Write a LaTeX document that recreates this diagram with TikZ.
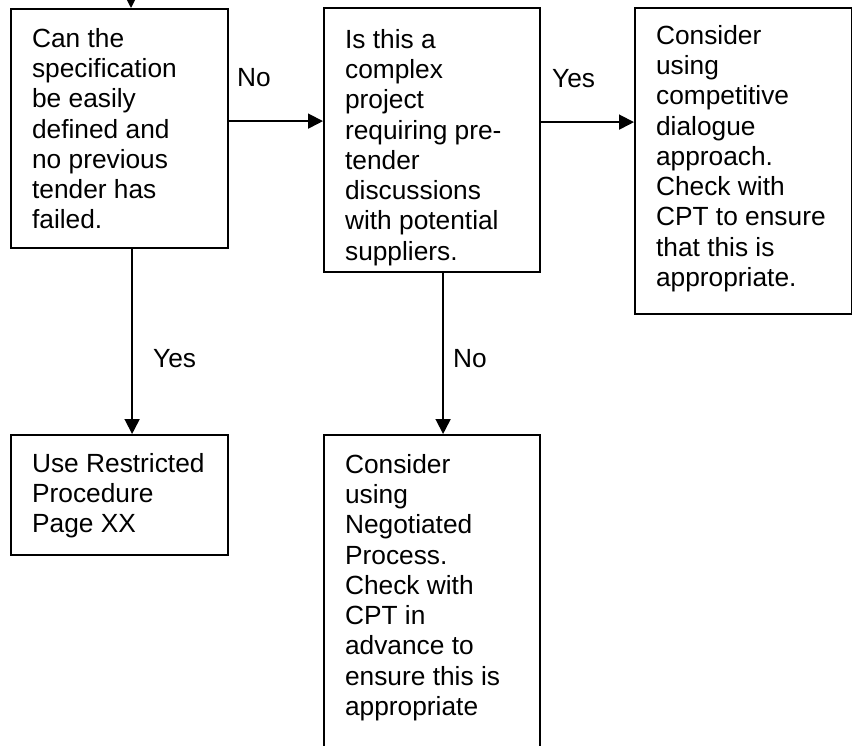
\documentclass[tikz,border=0pt]{standalone}
\usepackage{fontspec}
\setmainfont{Liberation Sans}
\usetikzlibrary{arrows.meta}

% text block of fixed width and height, set from the top
\newcommand{\flowtext}[3]{\parbox[t][#2][t]{#1}{\raggedright #3}}

\begin{document}
\begin{tikzpicture}[x=1pt, y=-1pt,
  flowbox/.style={draw, line width=2.2pt, anchor=north west, inner xsep=21pt,
    font=\fontsize{26.3}{30.3}\selectfont},
  flowarrow/.style={line width=1.8pt, -{Triangle[length=15pt, width=15pt]}},
  answer/.style={anchor=base west, inner sep=0pt, font=\fontsize{26.3}{30.3}\selectfont}]
  \useasboundingbox (0,0) rectangle (852,745);
  \clip (0,0) rectangle (852,745);

  % decision and outcome boxes
  \node[flowbox, inner ysep=19pt] (spec) at (10,8)
    {\flowtext{175pt}{201pt}{Can the\\ specification\\ be easily\\ defined and\\ no previous\\ tender has\\ failed.}};
  \node[flowbox, inner ysep=21pt] (complex) at (323,7)
    {\flowtext{174pt}{222pt}{Is this a\\ complex\\ project\\ requiring pre-\\ tender\\ discussions\\ with potential\\ suppliers.}};
  \node[flowbox, inner ysep=17pt] (dialogue) at (634,7)
    {\flowtext{175pt}{272pt}{Consider\\ using\\ competitive\\ dialogue\\ approach.\\ Check with\\ CPT to ensure\\ that this is\\ appropriate.}};
  \node[flowbox, inner ysep=18pt] (restricted) at (10,434)
    {\flowtext{175pt}{84pt}{Use Restricted\\ Procedure\\ Page XX}};
  \node[flowbox, inner ysep=19pt] (negotiated) at (323,434)
    {\flowtext{174pt}{302pt}{Consider\\ using\\ Negotiated\\ Process.\\ Check with\\ CPT in\\ advance to\\ ensure this is\\ appropriate}};

  % connectors
  \coordinate (entry) at (131,-40);
  \draw[flowarrow] (entry) -- (entry |- spec.north);
  \draw[flowarrow] ([yshift=7.5pt]spec.east) -- ([yshift=7.5pt]spec.east -| complex.west);
  \draw[flowarrow] ([yshift=18pt]complex.east) -- ([yshift=18pt]complex.east -| dialogue.west);
  \draw[flowarrow] ([xshift=12.5pt]spec.south) -- ([xshift=12.5pt]restricted.north);
  \draw[flowarrow] ([xshift=11pt]complex.south) -- ([xshift=11pt]negotiated.north);

  % branch labels
  \node[answer] (lblno1) at (237,86) {No};
  \node[answer] (lblyes1) at (552,87) {Yes};
  \node[answer] (lblyes2) at (153,367) {Yes};
  \node[answer] (lblno2) at (453,367) {No};
\end{tikzpicture}
\end{document}
